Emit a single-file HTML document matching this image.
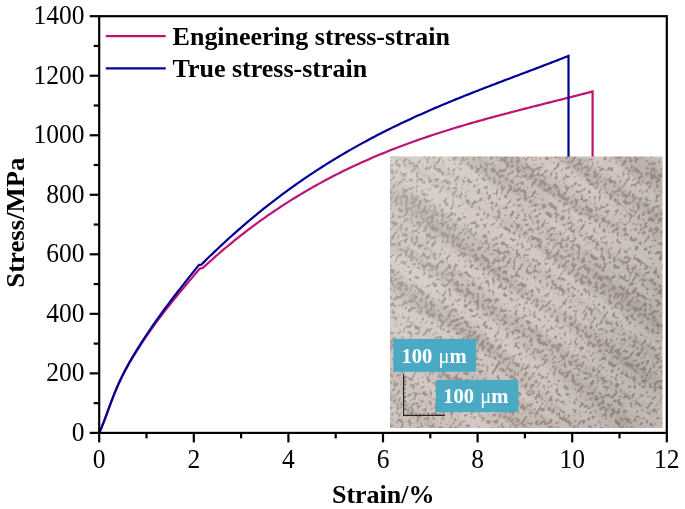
<!DOCTYPE html>
<html><head><meta charset="utf-8"><style>
html,body{margin:0;padding:0;background:#fff;}
body{width:685px;height:509px;overflow:hidden;}
svg{display:block;will-change:transform;}
text{font-family:"Liberation Serif",serif;}
</style></head><body>
<svg width="685" height="509" viewBox="0 0 685 509">
<defs>
<clipPath id='icl'><rect x='390' y='156.5' width='272.5' height='271.5'/></clipPath>
<linearGradient id='ig' gradientUnits='userSpaceOnUse' x1='390' y1='200' x2='662' y2='300'>
<stop offset='0' stop-color='#fff' stop-opacity='0.18'/><stop offset='0.45' stop-color='#fff' stop-opacity='0'/><stop offset='1' stop-color='#000' stop-opacity='0.08'/></linearGradient>
<filter id='tex' x='0' y='0' width='100%' height='100%' color-interpolation-filters='sRGB'>
<feTurbulence type='fractalNoise' baseFrequency='0.32 0.22' numOctaves='3' seed='5' result='n1'/>
<feTurbulence type='fractalNoise' baseFrequency='0.006 0.06' numOctaves='2' seed='11' result='n2'/>
<feColorMatrix in='n1' type='matrix' values='0 0 0 0 0  0 0 0 0 0  0 0 0 0 0  1 0 0 0 0' result='a1'/>
<feColorMatrix in='n2' type='matrix' values='0 0 0 0 0  0 0 0 0 0  0 0 0 0 0  1 0 0 0 0' result='a2'/>
<feComposite in='a1' in2='a2' operator='arithmetic' k1='0' k2='12' k3='3' k4='-8.1' result='m'/>
<feColorMatrix in='n2' type='matrix' values='0 0 0 0 0  0 0 0 0 0  0 0 0 0 0  1.6 0 0 0 -0.6' result='sh'/>
<feFlood flood-color='#b0a6a0' result='f2'/>
<feComposite in='f2' in2='sh' operator='in' result='shade'/>
<feFlood flood-color='#9a8f87' result='f'/>
<feComposite in='f' in2='m' operator='in' result='dk'/>
<feMerge><feMergeNode in='SourceGraphic'/><feMergeNode in='shade'/><feMergeNode in='dk'/></feMerge>
</filter>
</defs>
<rect width="685" height="509" fill="#fff"/>
<g fill="none" stroke-width="2.2" stroke-linejoin="miter">
<path d="M99.20,432.90 L101.55,427.49 L103.89,421.67 L106.24,415.42 L108.59,408.99 L110.93,402.65 L113.28,396.55 L115.62,390.75 L117.97,385.30 L120.32,380.21 L122.66,375.42 L125.01,370.91 L127.36,366.62 L129.70,362.53 L132.05,358.58 L134.39,354.75 L136.74,350.99 L139.09,347.31 L141.43,343.70 L143.78,340.16 L146.13,336.68 L148.47,333.27 L150.82,329.92 L153.16,326.63 L155.51,323.39 L157.86,320.21 L160.20,317.07 L162.55,313.98 L164.90,310.93 L167.24,307.92 L169.59,304.95 L171.94,302.01 L174.28,299.10 L176.63,296.22 L178.97,293.36 L181.32,290.53 L183.67,287.72 L186.01,284.92 L188.36,282.13 L190.71,279.36 L193.05,276.59 L195.40,273.83 L197.74,271.07 L200.09,268.30 L202.41,268.27 L204.77,266.09 L207.14,263.94 L209.50,261.81 L211.87,259.70 L214.23,257.61 L216.60,255.54 L218.96,253.49 L221.33,251.46 L223.69,249.45 L226.06,247.47 L228.42,245.50 L230.79,243.55 L233.15,241.62 L235.51,239.71 L237.88,237.83 L240.24,235.96 L242.61,234.11 L244.97,232.27 L247.34,230.46 L249.70,228.67 L252.07,226.89 L254.43,225.14 L256.80,223.40 L259.16,221.68 L261.53,219.97 L263.89,218.29 L266.26,216.62 L268.62,214.97 L270.99,213.34 L273.35,211.73 L275.71,210.13 L278.08,208.55 L280.44,206.99 L282.81,205.44 L285.17,203.91 L287.54,202.39 L289.90,200.90 L292.27,199.42 L294.63,197.95 L297.00,196.50 L299.36,195.07 L301.73,193.65 L304.09,192.24 L306.46,190.86 L308.82,189.48 L311.19,188.13 L313.55,186.78 L315.91,185.45 L318.28,184.14 L320.64,182.84 L323.01,181.56 L325.37,180.29 L327.74,179.03 L330.10,177.78 L332.47,176.55 L334.83,175.34 L337.20,174.14 L339.56,172.95 L341.93,171.77 L344.29,170.61 L346.66,169.45 L349.02,168.32 L351.39,167.19 L353.75,166.08 L356.11,164.98 L358.48,163.89 L360.84,162.81 L363.21,161.74 L365.57,160.69 L367.94,159.65 L370.30,158.62 L372.67,157.60 L375.03,156.59 L377.40,155.59 L379.76,154.60 L382.13,153.62 L384.49,152.66 L386.86,151.70 L389.22,150.76 L391.59,149.82 L393.95,148.89 L396.32,147.98 L398.68,147.07 L401.04,146.17 L403.41,145.29 L405.77,144.41 L408.14,143.54 L410.50,142.68 L412.87,141.82 L415.23,140.98 L417.60,140.15 L419.96,139.32 L422.33,138.50 L424.69,137.69 L427.06,136.89 L429.42,136.09 L431.79,135.30 L434.15,134.52 L436.52,133.75 L438.88,132.98 L441.24,132.22 L443.61,131.47 L445.97,130.73 L448.34,129.99 L450.70,129.26 L453.07,128.53 L455.43,127.81 L457.80,127.09 L460.16,126.39 L462.53,125.68 L464.89,124.99 L467.26,124.29 L469.62,123.61 L471.99,122.93 L474.35,122.25 L476.72,121.58 L479.08,120.91 L481.44,120.25 L483.81,119.59 L486.17,118.93 L488.54,118.28 L490.90,117.64 L493.27,116.99 L495.63,116.36 L498.00,115.72 L500.36,115.09 L502.73,114.46 L505.09,113.83 L507.46,113.21 L509.82,112.59 L512.19,111.97 L514.55,111.36 L516.92,110.75 L519.28,110.13 L521.64,109.53 L524.01,108.92 L526.37,108.31 L528.74,107.71 L531.10,107.11 L533.47,106.51 L535.83,105.91 L538.20,105.31 L540.56,104.71 L542.93,104.12 L545.29,103.52 L547.66,102.92 L550.02,102.33 L552.39,101.73 L554.75,101.14 L557.12,100.54 L559.48,99.95 L561.85,99.35 L564.21,98.75 L566.57,98.16 L568.94,97.56 L571.30,96.96 L573.67,96.36 L576.03,95.76 L578.40,95.15 L580.76,94.55 L583.13,93.94 L585.49,93.33 L587.86,92.72 L590.22,92.11 L592.59,91.49 L592.59,300" stroke="#bd1276"/>
<path d="M99.20,432.90 L101.55,427.48 L103.89,421.66 L106.23,415.39 L108.58,408.94 L110.92,402.57 L113.26,396.44 L115.60,390.61 L117.93,385.11 L120.27,379.97 L122.60,375.14 L124.94,370.57 L127.27,366.23 L129.60,362.08 L131.93,358.07 L134.26,354.16 L136.59,350.34 L138.92,346.59 L141.25,342.90 L143.57,339.28 L145.89,335.73 L148.22,332.24 L150.54,328.80 L152.86,325.42 L155.18,322.09 L157.50,318.81 L159.81,315.57 L162.13,312.38 L164.44,309.23 L166.76,306.12 L169.07,303.04 L171.38,299.99 L173.69,296.97 L176.00,293.98 L178.31,291.01 L180.62,288.06 L182.92,285.12 L185.23,282.20 L187.53,279.29 L189.83,276.39 L192.13,273.49 L194.43,270.59 L196.73,267.69 L199.03,264.79 L201.30,264.68 L203.61,262.37 L205.92,260.08 L208.24,257.82 L210.55,255.57 L212.86,253.34 L215.16,251.14 L217.47,248.95 L219.78,246.78 L222.08,244.63 L224.38,242.49 L226.69,240.38 L228.99,238.28 L231.29,236.21 L233.59,234.15 L235.89,232.11 L238.18,230.08 L240.48,228.08 L242.77,226.09 L245.07,224.12 L247.36,222.17 L249.65,220.23 L251.94,218.32 L254.23,216.42 L256.52,214.53 L258.80,212.67 L261.09,210.82 L263.37,208.98 L265.66,207.17 L267.94,205.37 L270.22,203.58 L272.50,201.82 L274.78,200.07 L277.06,198.33 L279.33,196.61 L281.61,194.91 L283.89,193.22 L286.16,191.54 L288.43,189.89 L290.70,188.24 L292.97,186.61 L295.24,185.00 L297.51,183.40 L299.78,181.82 L302.04,180.25 L304.31,178.70 L306.57,177.16 L308.84,175.63 L311.10,174.12 L313.36,172.62 L315.62,171.13 L317.88,169.66 L320.13,168.21 L322.39,166.76 L324.64,165.33 L326.90,163.91 L329.15,162.51 L331.40,161.12 L333.65,159.74 L335.90,158.37 L338.15,157.01 L340.40,155.67 L342.65,154.34 L344.89,153.02 L347.14,151.72 L349.38,150.42 L351.62,149.14 L353.86,147.87 L356.10,146.61 L358.34,145.36 L360.58,144.12 L362.82,142.89 L365.05,141.68 L367.29,140.47 L369.52,139.28 L371.76,138.09 L373.99,136.92 L376.22,135.75 L378.45,134.60 L380.68,133.46 L382.90,132.32 L385.13,131.20 L387.36,130.08 L389.58,128.97 L391.80,127.88 L394.03,126.79 L396.25,125.71 L398.47,124.64 L400.69,123.58 L402.91,122.52 L405.12,121.48 L407.34,120.44 L409.55,119.41 L411.77,118.39 L413.98,117.37 L416.19,116.37 L418.40,115.37 L420.61,114.38 L422.82,113.39 L425.03,112.42 L427.24,111.45 L429.44,110.48 L431.65,109.52 L433.85,108.57 L436.05,107.63 L438.26,106.69 L440.46,105.76 L442.66,104.83 L444.85,103.91 L447.05,102.99 L449.25,102.08 L451.44,101.18 L453.64,100.28 L455.83,99.39 L458.02,98.50 L460.22,97.61 L462.41,96.73 L464.60,95.85 L466.78,94.98 L468.97,94.11 L471.16,93.25 L473.34,92.39 L475.53,91.53 L477.71,90.68 L479.89,89.83 L482.07,88.98 L484.26,88.13 L486.43,87.29 L488.61,86.45 L490.79,85.62 L492.97,84.78 L495.14,83.95 L497.32,83.12 L499.49,82.30 L501.66,81.47 L503.83,80.65 L506.00,79.82 L508.17,79.00 L510.34,78.18 L512.51,77.36 L514.67,76.54 L516.84,75.72 L519.00,74.91 L521.17,74.09 L523.33,73.27 L525.49,72.46 L527.65,71.64 L529.81,70.82 L531.97,70.00 L534.13,69.19 L536.28,68.37 L538.44,67.55 L540.59,66.73 L542.75,65.90 L544.90,65.08 L547.05,64.25 L549.20,63.43 L551.35,62.60 L553.50,61.77 L555.65,60.93 L557.80,60.10 L559.94,59.26 L562.09,58.42 L564.23,57.58 L566.37,56.73 L568.51,55.88 L568.51,300" stroke="#000096"/>
</g>
<g id="inset">
<g clip-path='url(#icl)'><g transform='rotate(35 526 292)'><rect x='290' y='50' width='480' height='480' fill='#d3c8c3' filter='url(#tex)'/></g><rect x='390' y='156.5' width='272.5' height='271.5' fill='url(#ig)'/></g>
<rect x="393.3" y="338.9" width="82.8" height="32.9" fill="#4aaac4"/>
<rect x="435.8" y="379.9" width="82.6" height="32.2" fill="#4aaac4"/>
<g font-weight="bold" font-size="20.6" fill="#fff">
<text transform="translate(401.5,362.7) scale(1,0.98)" word-spacing="1">100 <tspan font-weight="normal">&#956;</tspan>m</text>
<text transform="translate(443.2,402.9) scale(1,0.98)" word-spacing="1">100 <tspan font-weight="normal">&#956;</tspan>m</text>
</g>
<path d="M403.6,374.2 V415.3 H444.8" fill="none" stroke="#2a2320" stroke-width="1.2"/>
<path d="M404.2,377 H406 M404.2,381 H406 M404.2,385 H406 M404.2,389 H406 M404.2,393 H406 M404.2,397 H406 M404.2,401 H406 M404.2,405 H406 M404.2,409 H406 M408,414.7 V412.8 M412,414.7 V412.8 M416,414.7 V412.8 M420,414.7 V412.8 M424,414.7 V412.8 M428,414.7 V412.8 M432,414.7 V412.8 M436,414.7 V412.8 M440,414.7 V412.8" fill="none" stroke="#4a403a" stroke-width="0.8" opacity="0.8"/>
</g>
<g stroke="#000" stroke-width="2.2" fill="none">
<rect x="99.2" y="16.20" width="567.60" height="416.70"/>
<line x1="89.70" y1="432.90" x2="99.20" y2="432.90"/><line x1="93.70" y1="403.14" x2="99.20" y2="403.14"/><line x1="89.70" y1="373.37" x2="99.20" y2="373.37"/><line x1="93.70" y1="343.61" x2="99.20" y2="343.61"/><line x1="89.70" y1="313.84" x2="99.20" y2="313.84"/><line x1="93.70" y1="284.08" x2="99.20" y2="284.08"/><line x1="89.70" y1="254.31" x2="99.20" y2="254.31"/><line x1="93.70" y1="224.55" x2="99.20" y2="224.55"/><line x1="89.70" y1="194.79" x2="99.20" y2="194.79"/><line x1="93.70" y1="165.02" x2="99.20" y2="165.02"/><line x1="89.70" y1="135.26" x2="99.20" y2="135.26"/><line x1="93.70" y1="105.49" x2="99.20" y2="105.49"/><line x1="89.70" y1="75.73" x2="99.20" y2="75.73"/><line x1="93.70" y1="45.96" x2="99.20" y2="45.96"/><line x1="89.70" y1="16.20" x2="99.20" y2="16.20"/><line x1="99.20" y1="432.90" x2="99.20" y2="442.40"/><line x1="146.50" y1="432.90" x2="146.50" y2="438.40"/><line x1="193.80" y1="432.90" x2="193.80" y2="442.40"/><line x1="241.10" y1="432.90" x2="241.10" y2="438.40"/><line x1="288.40" y1="432.90" x2="288.40" y2="442.40"/><line x1="335.70" y1="432.90" x2="335.70" y2="438.40"/><line x1="383.00" y1="432.90" x2="383.00" y2="442.40"/><line x1="430.30" y1="432.90" x2="430.30" y2="438.40"/><line x1="477.60" y1="432.90" x2="477.60" y2="442.40"/><line x1="524.90" y1="432.90" x2="524.90" y2="438.40"/><line x1="572.20" y1="432.90" x2="572.20" y2="442.40"/><line x1="619.50" y1="432.90" x2="619.50" y2="438.40"/><line x1="666.80" y1="432.90" x2="666.80" y2="442.40"/>
</g>
<g font-size="25.5" fill="#000">
<text transform="translate(84.4,440.80) scale(1,1.04)" text-anchor="end">0</text><text transform="translate(84.4,381.27) scale(1,1.04)" text-anchor="end">200</text><text transform="translate(84.4,321.74) scale(1,1.04)" text-anchor="end">400</text><text transform="translate(84.4,262.21) scale(1,1.04)" text-anchor="end">600</text><text transform="translate(84.4,202.69) scale(1,1.04)" text-anchor="end">800</text><text transform="translate(84.4,143.16) scale(1,1.04)" text-anchor="end">1000</text><text transform="translate(84.4,83.63) scale(1,1.04)" text-anchor="end">1200</text><text transform="translate(84.4,24.10) scale(1,1.04)" text-anchor="end">1400</text><text transform="translate(99.20,467.6) scale(1,1.04)" text-anchor="middle">0</text><text transform="translate(193.80,467.6) scale(1,1.04)" text-anchor="middle">2</text><text transform="translate(288.40,467.6) scale(1,1.04)" text-anchor="middle">4</text><text transform="translate(383.00,467.6) scale(1,1.04)" text-anchor="middle">6</text><text transform="translate(477.60,467.6) scale(1,1.04)" text-anchor="middle">8</text><text transform="translate(572.20,467.6) scale(1,1.04)" text-anchor="middle">10</text><text transform="translate(666.80,467.6) scale(1,1.04)" text-anchor="middle">12</text>
</g>
<g stroke-width="2.2">
<line x1="105.8" y1="36.1" x2="165.7" y2="36.1" stroke="#bd1276"/>
<line x1="105.8" y1="68.4" x2="165.7" y2="68.4" stroke="#000096"/>
</g>
<g font-weight="bold" font-size="26" fill="#000">
<text transform="translate(172.6,44.9) scale(1,0.975)">Engineering stress-strain</text>
<text transform="translate(172.6,76.9) scale(1,0.975)">True stress-strain</text>
<text transform="translate(383.2,502.5) scale(1,0.975)" text-anchor="middle">Strain/%</text>
<text transform="translate(24.2,222.6) rotate(-90) scale(1.028,0.975)" text-anchor="middle">Stress/MPa</text>
</g>
</svg>
</body></html>
